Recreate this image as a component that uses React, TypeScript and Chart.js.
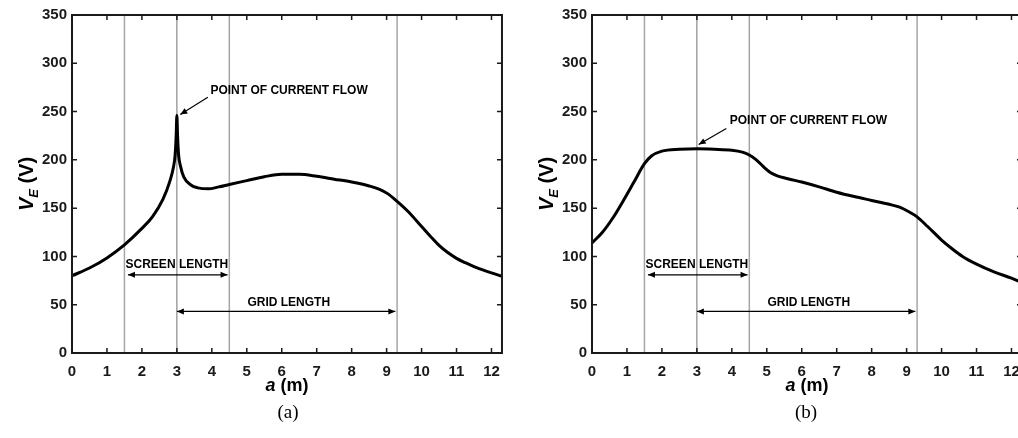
import React, { useEffect, useRef } from "react";
import { Chart, registerables } from "chart.js";
Chart.register(...registerables);

// ---------- data ----------
const xA = [0, 0.5, 1, 1.5, 2, 2.3, 2.6, 2.8, 2.9, 2.95, 2.98, 3.0, 3.02, 3.05, 3.1, 3.2, 3.4, 3.6, 3.9, 4.2, 4.5, 5, 5.5, 6, 6.5, 7, 7.5, 8, 8.5, 8.8, 9.05, 9.3, 9.6, 10, 10.25, 10.5, 10.75, 11, 11.25, 11.5, 11.75, 12, 12.3];
const yA = [80, 88, 98.5, 112, 129, 141, 159, 178, 192, 205, 225, 246, 225, 205, 194, 182, 174, 171, 170, 172, 174.5, 178.5, 182.5, 185, 185, 183, 180, 177, 173, 169.5, 164.5, 157, 147, 131, 121, 111.5, 104, 98, 93.5, 89.5, 86, 83, 79.5];

const xB = [0, 0.3, 0.6, 0.9, 1.2, 1.5, 1.7, 2, 2.5, 3, 3.5, 4, 4.3, 4.5, 4.7, 4.9, 5.1, 5.3, 5.6, 6, 6.5, 7, 7.5, 8, 8.5, 8.8, 9.05, 9.3, 9.6, 10, 10.3, 10.6, 11, 11.5, 12, 12.3];
const yB = [114, 125, 140, 158, 177, 196, 204, 209, 211, 211.5, 211, 210, 208, 205, 200, 193, 187, 183.5, 180.5, 177, 172, 166.5, 162, 158, 154, 151, 146.5, 141, 131, 117, 108, 100, 92, 84, 77.5, 73];

const xTicks = [0, 1, 2, 3, 4, 5, 6, 7, 8, 9, 10, 11, 12];
const yTicks = [0, 50, 100, 150, 200, 250, 300, 350];
const markerX = [1.5, 3, 4.5, 9.3];

// annotation anchors (data units): [x1, x2, y]
const screenArrow = [1.6, 4.45, 81];
const gridArrow = [3.0, 9.25, 43];
const screenLabel = [3.0, 91.5];
const gridLabel = [6.2, 52.5];
// point-of-current-flow: [textX, textY, fromX, fromY, toX, toY]
const flowA = [3.96, 271.7, 3.886, 264.8, 3.097, 246.9];
const flowB = [3.94, 240.6, 3.843, 232.4, 3.051, 215.9];

const X_MIN = 0, X_MAX = 12.3, Y_MIN = 0, Y_MAX = 350;

const SANS = "'Liberation Sans', Arial, Helvetica, sans-serif";

function arrowHead(ctx: CanvasRenderingContext2D, x: number, y: number, fx: number, fy: number) {
  const ang = Math.atan2(y - fy, x - fx);
  const L = 7, W = 3;
  ctx.beginPath();
  ctx.moveTo(x, y);
  ctx.lineTo(x - L * Math.cos(ang) + W * Math.sin(ang), y - L * Math.sin(ang) - W * Math.cos(ang));
  ctx.lineTo(x - L * Math.cos(ang) - W * Math.sin(ang), y - L * Math.sin(ang) + W * Math.cos(ang));
  ctx.closePath();
  ctx.fill();
}

const framePlugin = {
  id: "frame",
  afterDatasetsDraw(chart: any, _args: any, opts: any) {
    const { ctx, chartArea: a, scales } = chart;
    const xs = scales.x, ys = scales.y;
    ctx.save();
    // frame
    ctx.strokeStyle = "#1a1a1a";
    ctx.lineWidth = 2;
    ctx.strokeRect(a.left, a.top, a.right - a.left, a.bottom - a.top);
    // inward ticks
    ctx.lineWidth = 1.5;
    ctx.beginPath();
    xTicks.forEach((v) => {
      const px = xs.getPixelForValue(v);
      ctx.moveTo(px, a.bottom); ctx.lineTo(px, a.bottom - 5);
      ctx.moveTo(px, a.top); ctx.lineTo(px, a.top + 5);
    });
    yTicks.forEach((v) => {
      const py = ys.getPixelForValue(v);
      ctx.moveTo(a.left, py); ctx.lineTo(a.left + 5, py);
      ctx.moveTo(a.right, py); ctx.lineTo(a.right - 5, py);
    });
    ctx.stroke();

    // double arrows
    ctx.strokeStyle = "#000";
    ctx.fillStyle = "#000";
    ctx.lineWidth = 1.2;
    [screenArrow, gridArrow].forEach(([x1, x2, y]) => {
      const p1 = xs.getPixelForValue(x1), p2 = xs.getPixelForValue(x2), py = ys.getPixelForValue(y);
      ctx.beginPath(); ctx.moveTo(p1, py); ctx.lineTo(p2, py); ctx.stroke();
      arrowHead(ctx, p1, py, p2, py);
      arrowHead(ctx, p2, py, p1, py);
    });
    // labels
    ctx.font = `bold 12px ${SANS}`;
    ctx.textAlign = "center";
    ctx.textBaseline = "middle";
    ctx.fillText("SCREEN LENGTH", xs.getPixelForValue(screenLabel[0]), ys.getPixelForValue(screenLabel[1]));
    ctx.fillText("GRID LENGTH", xs.getPixelForValue(gridLabel[0]), ys.getPixelForValue(gridLabel[1]));
    // point of current flow
    const f = opts.flow as number[];
    ctx.textAlign = "left";
    ctx.fillText("POINT OF CURRENT FLOW", xs.getPixelForValue(f[0]), ys.getPixelForValue(f[1]));
    const fx = xs.getPixelForValue(f[2]), fy = ys.getPixelForValue(f[3]);
    const tx = xs.getPixelForValue(f[4]), ty = ys.getPixelForValue(f[5]);
    ctx.beginPath(); ctx.moveTo(fx, fy); ctx.lineTo(tx, ty); ctx.stroke();
    arrowHead(ctx, tx, ty, fx, fy);

    // x axis title: a (m)
    const cx = (a.left + a.right) / 2;
    const ty2 = 386;
    ctx.textBaseline = "middle";
    ctx.font = `italic bold 18px ${SANS}`;
    const wa = ctx.measureText("a").width;
    ctx.font = `bold 18px ${SANS}`;
    const wm = ctx.measureText(" (m)").width;
    let sx = cx - (wa + wm) / 2;
    ctx.textAlign = "left";
    ctx.font = `italic bold 18px ${SANS}`;
    ctx.fillText("a", sx, ty2);
    ctx.font = `bold 18px ${SANS}`;
    ctx.fillText(" (m)", sx + wa, ty2);

    // y axis title: V_E (V)
    ctx.translate(33, (a.top + a.bottom) / 2);
    ctx.rotate(-Math.PI / 2);
    ctx.textBaseline = "alphabetic";
    ctx.font = `italic bold 20px ${SANS}`;
    const wV = ctx.measureText("V").width;
    ctx.font = `italic bold 13px ${SANS}`;
    const wE = ctx.measureText("E").width;
    ctx.font = `bold 20px ${SANS}`;
    const wP = ctx.measureText(" (V)").width;
    sx = -(wV + wE + wP) / 2;
    ctx.font = `italic bold 20px ${SANS}`;
    ctx.fillText("V", sx, 0);
    ctx.font = `italic bold 13px ${SANS}`;
    ctx.fillText("E", sx + wV, 5);
    ctx.font = `bold 20px ${SANS}`;
    ctx.fillText(" (V)", sx + wV + wE, 0);
    ctx.restore();
  },
};

function Panel({ xs, ys, flow }: { xs: number[]; ys: number[]; flow: number[] }) {
  const ref = useRef<HTMLCanvasElement>(null);
  useEffect(() => {
    if (!ref.current) return;
    const markerSets = markerX.map((m) => ({
      data: [{ x: m, y: Y_MIN }, { x: m, y: Y_MAX }],
      borderColor: m === 3 ? "#888888" : "#a6a6a6",
      borderWidth: m === 3 ? 1.2 : 1.5,
      pointRadius: 0,
      tension: 0,
    }));
    const chart = new Chart(ref.current, {
      type: "line",
      data: {
        datasets: [
          {
            data: xs.map((x, i) => ({ x, y: ys[i] })),
            borderColor: "#000",
            borderWidth: 3,
            pointRadius: 0,
            cubicInterpolationMode: "monotone",
            fill: false,
          },
          ...markerSets,
        ] as any,
      },
      options: {
        responsive: false,
        animation: false,
        layout: { padding: { top: 15, right: 7, left: 0, bottom: 0 } },
        plugins: { legend: { display: false }, tooltip: { enabled: false }, frame: { flow } } as any,
        scales: {
          x: {
            type: "linear",
            min: X_MIN,
            max: X_MAX,
            afterBuildTicks: (s: any) => { s.ticks = xTicks.map((v) => ({ value: v })); },
            afterFit: (s: any) => { s.height = 85; },
            grid: { display: false, drawTicks: false },
            border: { display: false },
            ticks: { color: "#1a1a1a", font: { family: SANS, size: 15, weight: "bold" }, padding: 10, maxRotation: 0, autoSkip: false },
          },
          y: {
            type: "linear",
            min: Y_MIN,
            max: Y_MAX,
            afterBuildTicks: (s: any) => { s.ticks = yTicks.map((v) => ({ value: v })); },
            afterFit: (s: any) => { s.width = 72; },
            grid: { display: false, drawTicks: false },
            border: { display: false },
            ticks: { color: "#1a1a1a", font: { family: SANS, size: 15, weight: "bold" }, padding: 5 },
          },
        },
      } as any,
      plugins: [framePlugin],
    });
    return () => chart.destroy();
  }, [xs, ys, flow]);
  return <canvas ref={ref} width={510} height={438} style={{ display: "block", width: 510, height: 438 }} />;
}

export default function App() {
  const cap: React.CSSProperties = {
    position: "absolute",
    top: 400,
    width: 60,
    textAlign: "center",
    fontFamily: "'Liberation Serif', 'Times New Roman', serif",
    fontSize: 19,
    lineHeight: "24px",
    color: "#000",
  };
  return (
    <div style={{ position: "fixed", left: 0, top: 0, width: 1018, height: 438, overflow: "hidden", background: "#fff" }}>
      <div style={{ position: "absolute", left: 0, top: 0 }}>
        <Panel xs={xA} ys={yA} flow={flowA} />
      </div>
      <div style={{ position: "absolute", left: 520, top: 0 }}>
        <Panel xs={xB} ys={yB} flow={flowB} />
      </div>
      <div style={{ ...cap, left: 258 }}>(a)</div>
      <div style={{ ...cap, left: 776 }}>(b)</div>
    </div>
  );
}
